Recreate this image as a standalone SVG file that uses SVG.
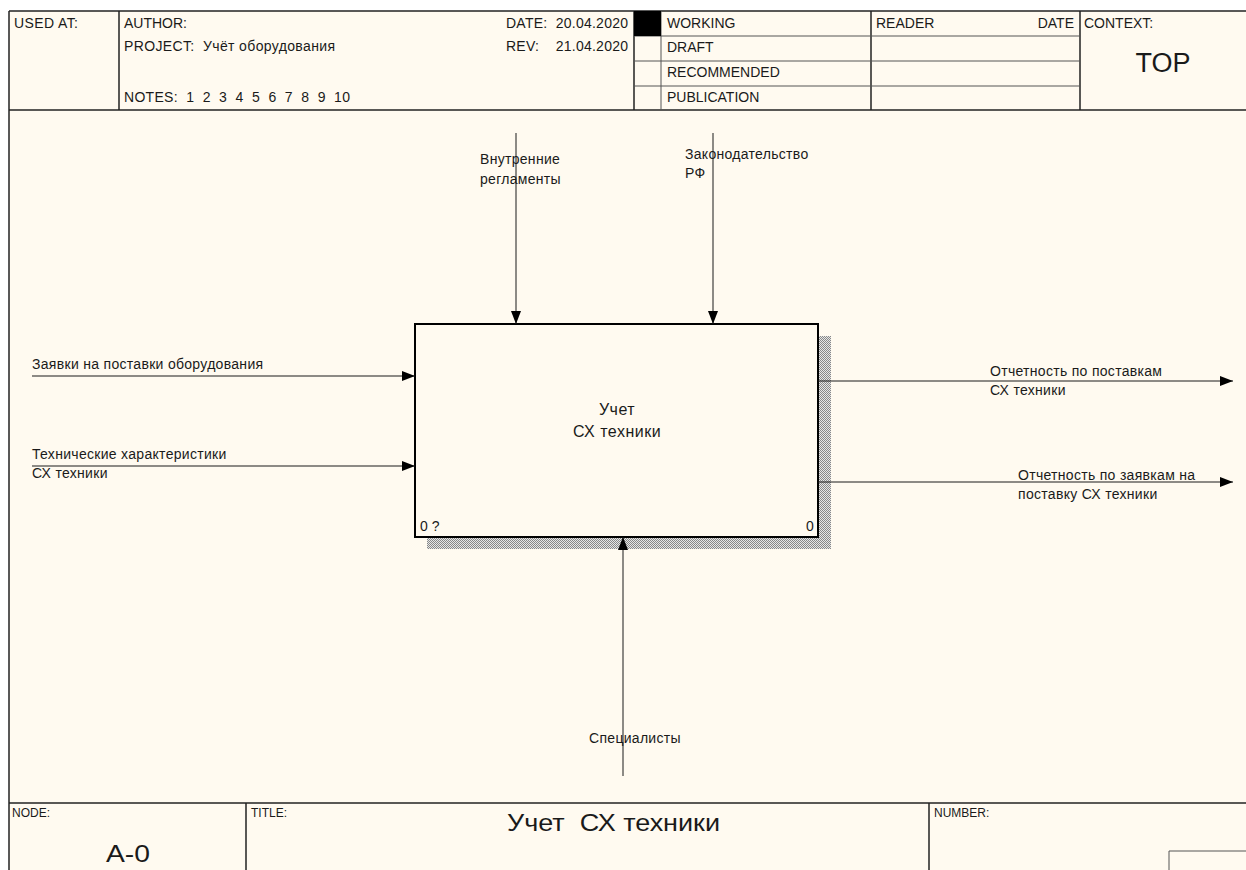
<svg xmlns="http://www.w3.org/2000/svg" width="1246" height="870" viewBox="0 0 1246 870">
<style>
text{font-family:"Liberation Sans",Arial,sans-serif;fill:#1a1a1a}
.h{font-size:14px}
.l{font-size:14px;letter-spacing:0.3px}
.ln{stroke:#1a1a1a;stroke-width:1;fill:none}
.fr{stroke:#222;stroke-width:1.5;fill:none}
.thin{stroke:#555;stroke-width:1;fill:none}
</style>
<defs>
<pattern id="hatch" width="2" height="2" patternUnits="userSpaceOnUse">
<rect width="2" height="2" fill="#e6e6e6"/>
<rect width="1" height="1" fill="#888"/>
<rect x="1" y="1" width="1" height="1" fill="#888"/>
</pattern>
<marker id="ah" markerWidth="13" markerHeight="10" refX="13" refY="5" orient="auto" markerUnits="userSpaceOnUse">
<path d="M0,0 L13,5 L0,10 Z" fill="#000"/>
</marker>
</defs>
<rect width="1246" height="870" fill="#fff"/>
<rect x="9" y="11" width="1237" height="859" fill="#fffaf0"/>

<g id="header">
<line class="fr" x1="9" y1="11" x2="1246" y2="11"/>
<line class="fr" x1="9" y1="11" x2="9" y2="870"/>
<line class="fr" x1="9" y1="110" x2="1246" y2="110"/>
<line class="fr" x1="119" y1="11" x2="119" y2="110"/>
<line class="fr" x1="634" y1="11" x2="634" y2="110"/>
<line class="thin" x1="661" y1="11" x2="661" y2="110"/>
<line class="fr" x1="871" y1="11" x2="871" y2="110"/>
<line class="fr" x1="1080" y1="11" x2="1080" y2="110"/>
<line class="thin" x1="634" y1="36" x2="1080" y2="36"/>
<line class="thin" x1="634" y1="61" x2="1080" y2="61"/>
<line class="thin" x1="634" y1="86" x2="1080" y2="86"/>
<rect x="634" y="11" width="27" height="25" fill="#000"/>
<text class="h" x="14" y="28" textLength="64">USED AT:</text>
<text class="h" x="124" y="28">AUTHOR:</text>
<text class="h" x="124" y="51" xml:space="preserve" textLength="211">PROJECT:  Учёт оборудования</text>
<text class="h" x="124" y="102" xml:space="preserve" textLength="226">NOTES:  1  2  3  4  5  6  7  8  9  10</text>
<text class="h" x="506" y="28" xml:space="preserve" textLength="122">DATE:  20.04.2020</text>
<text class="h" x="506" y="51" xml:space="preserve" textLength="122">REV:    21.04.2020</text>
<text class="h" x="667" y="28">WORKING</text>
<text class="h" x="667" y="52">DRAFT</text>
<text class="h" x="667" y="77">RECOMMENDED</text>
<text class="h" x="667" y="102">PUBLICATION</text>
<text class="h" x="876" y="28">READER</text>
<text class="h" x="1074" y="28" text-anchor="end">DATE</text>
<text class="h" x="1084" y="28">CONTEXT:</text>
<text x="1163" y="72" font-size="27" text-anchor="middle">TOP</text>
</g>

<g id="footer">
<line class="fr" x1="9" y1="803" x2="1246" y2="803"/>
<line class="fr" x1="246" y1="803" x2="246" y2="870"/>
<line class="fr" x1="929" y1="803" x2="929" y2="870"/>
<path class="thin" d="M1169,870 V851 H1246"/>
<text x="12" y="817" font-size="12">NODE:</text>
<text x="251" y="817" font-size="12">TITLE:</text>
<text x="934" y="817" font-size="12">NUMBER:</text>
<text x="507" y="831" font-size="23" xml:space="preserve" textLength="213" lengthAdjust="spacingAndGlyphs">Учет  СХ техники</text>
<text x="106" y="862" font-size="23" textLength="44" lengthAdjust="spacingAndGlyphs">A-0</text>
</g>

<g id="node-A0">
<rect x="818" y="336" width="13" height="213" fill="url(#hatch)"/>
<rect x="427" y="537" width="404" height="12" fill="url(#hatch)"/>
<rect x="415" y="324" width="403" height="213" fill="#fffaf0" stroke="#000" stroke-width="2"/>
<text x="617" y="415" font-size="16" letter-spacing="0.5" text-anchor="middle">Учет</text>
<text x="617" y="437" font-size="16" letter-spacing="0.5" text-anchor="middle">СХ техники</text>
<text x="420" y="531" font-size="14">0 ?</text>
<text x="806" y="531" font-size="14">0</text>
</g>

<g id="connectors">
<line class="ln" x1="516" y1="133" x2="516" y2="324" marker-end="url(#ah)"/>
<line class="ln" x1="713" y1="133" x2="713" y2="324" marker-end="url(#ah)"/>
<line class="ln" x1="32" y1="376" x2="415" y2="376" marker-end="url(#ah)"/>
<line class="ln" x1="32" y1="466" x2="415" y2="466" marker-end="url(#ah)"/>
<line class="ln" x1="818" y1="381" x2="1233" y2="381" marker-end="url(#ah)"/>
<line class="ln" x1="818" y1="482" x2="1233" y2="482" marker-end="url(#ah)"/>
<line class="ln" x1="623" y1="776" x2="623" y2="537" marker-end="url(#ah)"/>
</g>

<g id="labels">
<text class="l" x="480" y="164">Внутренние</text>
<text class="l" x="480" y="184">регламенты</text>
<text class="l" x="685" y="159">Законодательство</text>
<text class="l" x="685" y="178">РФ</text>
<text class="l" x="32" y="369">Заявки на поставки оборудования</text>
<text class="l" x="32" y="459">Технические характеристики</text>
<text class="l" x="32" y="478">СХ техники</text>
<text class="l" x="990" y="376">Отчетность по поставкам</text>
<text class="l" x="990" y="395">СХ техники</text>
<text class="l" x="1018" y="480">Отчетность по заявкам на</text>
<text class="l" x="1018" y="499">поставку СХ техники</text>
<text class="l" x="589" y="743">Специалисты</text>
</g>
</svg>
